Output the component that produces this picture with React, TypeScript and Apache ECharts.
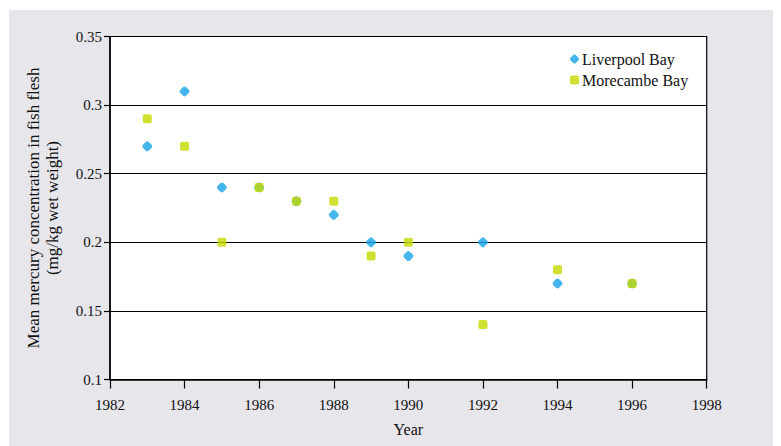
import React, { useEffect, useRef } from "react";
import * as echarts from "echarts";

const years = [1983, 1984, 1985, 1986, 1987, 1988, 1989, 1990, 1992, 1994, 1996];
const liverpoolBay = [0.27, 0.31, 0.24, 0.24, 0.23, 0.22, 0.2, 0.19, 0.2, 0.17, 0.17];
const morecambeBay = [0.29, 0.27, 0.2, 0.24, 0.23, 0.23, 0.19, 0.2, 0.14, 0.18, 0.17];
const seriesNames = ["Liverpool Bay", "Morecambe Bay"];
const yAxisTitle = "Mean mercury concentration in fish flesh\n(mg/kg wet weight)";
const xAxisTitle = "Year";

const FONT = "'Liberation Serif', serif";
const BLUE = "#16a2e8";
const GREEN = "#c6da00";
const diamondPath = "path://M3.6,0.8 Q5,-0.4 6.4,0.8 L9.2,3.6 Q10.4,5 9.2,6.4 L6.4,9.2 Q5,10.4 3.6,9.2 L0.8,6.4 Q-0.4,5 0.8,3.6 Z";
const squarePath = "path://M2,0 L8,0 Q10,0 10,2 L10,8 Q10,10 8,10 L2,10 Q0,10 0,8 L0,2 Q0,0 2,0 Z";

export default function App() {
  const ref = useRef<HTMLDivElement>(null);
  useEffect(() => {
    if (!ref.current) return;
    const chart = echarts.init(ref.current, undefined, { renderer: "svg" });
    chart.setOption({
      animation: false,
      backgroundColor: "#ffffff",
      graphic: [
        {
          type: "rect",
          z: -10,
          silent: true,
          shape: { x: 1, y: 2, width: 800, height: 500 },
          style: { fill: "#e6e6eb" },
        },
      ],
      grid: {
        left: 102,
        top: 28.5,
        right: 74.3,
        bottom: 66.5,
        show: true,
        backgroundColor: "#ffffff",
        borderColor: "#000",
        borderWidth: 1.2,
      },
      legend: {
        orient: "vertical",
        left: 557,
        top: 38,
        itemWidth: 9,
        itemHeight: 9,
        itemGap: 5,
        textStyle: { fontFamily: FONT, fontSize: 16, color: "#111", padding: [0, 0, 0, -2] },
        data: [
          { name: seriesNames[0], icon: diamondPath },
          { name: seriesNames[1], icon: squarePath },
        ],
      },
      xAxis: {
        type: "value",
        min: 1982,
        max: 1998,
        interval: 2,
        name: xAxisTitle,
        nameLocation: "middle",
        nameGap: 42,
        nameTextStyle: { fontFamily: FONT, fontSize: 16, color: "#111" },
        axisLine: { show: true, lineStyle: { color: "#000", width: 1.5 } },
        axisTick: { show: true, length: 9, lineStyle: { color: "#000", width: 1.2 } },
        axisLabel: {
          fontFamily: FONT,
          fontSize: 15,
          color: "#111",
          margin: 18,
          formatter: (v: number) => String(v),
        },
        splitLine: { show: false },
      },
      yAxis: {
        type: "value",
        min: 0.1,
        max: 0.35,
        interval: 0.05,
        name: yAxisTitle,
        nameLocation: "middle",
        nameGap: 48,
        nameTextStyle: { fontFamily: FONT, fontSize: 17, color: "#111", lineHeight: 19 },
        axisLine: { show: true, lineStyle: { color: "#000", width: 1.5 } },
        axisTick: { show: true, length: 6, lineStyle: { color: "#000", width: 1.2 } },
        axisLabel: {
          fontFamily: FONT,
          fontSize: 15,
          color: "#111",
          margin: 8,
          formatter: (v: number) => String(parseFloat(v.toFixed(2))),
        },
        splitLine: { show: true, lineStyle: { color: "#000", width: 1.2 } },
      },
      series: [
        {
          name: seriesNames[0],
          type: "scatter",
          symbol: diamondPath,
          symbolSize: 10,
          itemStyle: { color: BLUE },
          data: years.map((y, i) => [y, liverpoolBay[i]]),
        },
        {
          name: seriesNames[1],
          type: "scatter",
          symbol: squarePath,
          symbolSize: 9,
          itemStyle: { color: GREEN },
          data: years.map((y, i) => [y, morecambeBay[i]]),
        },
      ],
    });
    return () => chart.dispose();
  }, []);
  return <div ref={ref} style={{ width: 773, height: 438 }} />;
}
